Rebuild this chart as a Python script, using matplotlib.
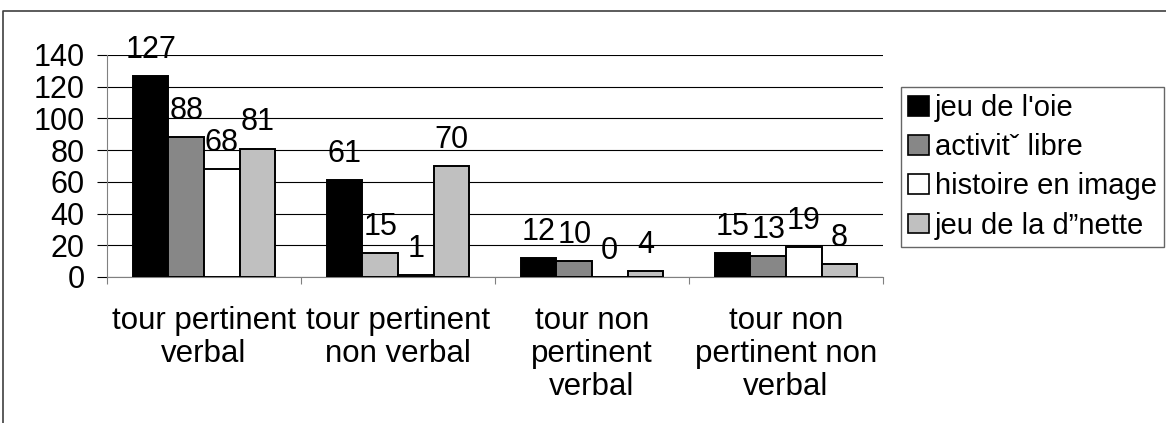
import matplotlib.pyplot as plt
from matplotlib.lines import Line2D
from matplotlib.patches import Patch
import numpy as np

plt.rcParams['font.family'] = ['Liberation Sans', 'DejaVu Sans']

categories = ["tour pertinent\nverbal", "tour pertinent\nnon verbal",
              "tour non\npertinent\nverbal", "tour non\npertinent non\nverbal"]
series = ["jeu de l'oie", "activitˇ libre", "histoire en image", "jeu de la d\u201dnette"]
jeu_oie = [127, 61, 12, 15]
activite_libre = [88, 15, 10, 13]
histoire_image = [68, 1, 0, 19]
jeu_dinette = [81, 70, 4, 8]
values = [jeu_oie, activite_libre, histoire_image, jeu_dinette]

colors = ['#000000', '#878787', '#ffffff', '#c0c0c0']
# the source chart fills one bar with the wrong grey
override = {(1, 1): '#c0c0c0'}

W, H = 1166, 423
fig = plt.figure(figsize=(W / 100, H / 100), dpi=100)
ax = fig.add_axes([107 / W, 1 - 277 / H, (883 - 107) / W, (277 - 55) / H])

x = np.arange(len(categories))
w = 0.183
for i, vals in enumerate(values):
    pos = x + (i - 1.5) * w
    cols = [override.get((g, i), colors[i]) for g in range(len(categories))]
    ax.bar(pos, vals, w, color=cols, edgecolor='black', linewidth=1.4, zorder=3)
    for p, v in zip(pos, vals):
        ax.annotate(str(v), (p, v), xytext=(0, 8), textcoords='offset points',
                    ha='center', va='bottom', fontsize=22, zorder=4)

ax.set_xlim(-0.5, len(categories) - 0.5)
ax.set_ylim(0, 140)
ax.set_yticks(range(0, 141, 20))
ax.yaxis.grid(True, color='black', linewidth=0.8, zorder=0)
ax.tick_params(axis='y', length=7, width=0.8, color='black', labelsize=22, pad=9)

ax.set_xticks(np.arange(-0.5, len(categories)), labels=[])
ax.set_xticks(x, labels=categories, minor=True)
ax.tick_params(axis='x', which='major', length=5, width=0.8, color='#808080')
ax.tick_params(axis='x', which='minor', length=0, labelsize=22.5, pad=21)
for lab in ax.get_xticklabels(minor=True):
    lab.set_linespacing(1.13)

for s in ['top', 'right']:
    ax.spines[s].set_visible(False)
ax.spines['left'].set_color('#808080')
ax.spines['bottom'].set_color('#808080')
ax.spines['left'].set_linewidth(0.8)
ax.spines['bottom'].set_linewidth(0.8)

handles = [Patch(facecolor=c, edgecolor='black', linewidth=1.2) for c in colors]
fig.legend(handles, series, loc='upper left', bbox_to_anchor=(901 / W, 1 - 87 / H),
           fontsize=21, frameon=True, fancybox=False, edgecolor='#404040',
           handlelength=0.7, handleheight=0.65, handletextpad=0.2,
           labelspacing=0.38, borderpad=0.25, borderaxespad=0)

# outer chart frame, cut off at the right and bottom
fig.add_artist(Line2D([3 / W, 3 / W, 1], [0, 1 - 11 / H, 1 - 11 / H],
                      transform=fig.transFigure, color='#404040', linewidth=1.2))

fig.savefig('out.png', dpi=100)
